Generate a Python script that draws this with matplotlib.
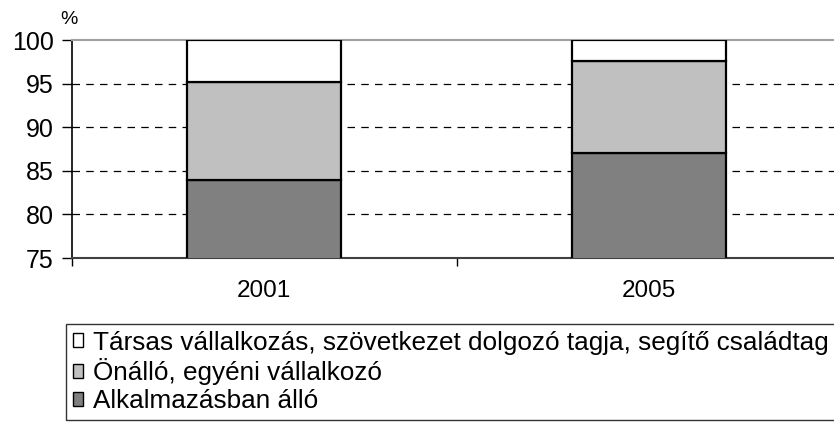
import matplotlib.pyplot as plt
from matplotlib.patches import Patch

plt.rcParams['font.family'] = ['Liberation Sans', 'DejaVu Sans']

years = ['2001', '2005']
alkalmazott = [83.9, 87.0]
onallo = [11.3, 10.6]
tarsas = [4.8, 2.4]

labels = ['Alkalmazásban álló',
          'Önálló, egyéni vállalkozó',
          'Társas vállalkozás, szövetkezet dolgozó tagja, segítő családtag']
colors = ['#808080', '#c0c0c0', '#ffffff']

fig = plt.figure(figsize=(8.34, 4.23), dpi=100)
ax = fig.add_axes([72 / 834, 165 / 423, 762 / 834, 218 / 423])

x = list(range(len(years)))
bottom = [0, 0]
for vals, col in zip([alkalmazott, onallo, tarsas], colors):
    ax.bar(x, vals, width=0.40, bottom=bottom, color=col,
           edgecolor='black', linewidth=1.6, zorder=3)
    bottom = [b + v for b, v in zip(bottom, vals)]

ax.set_ylim(75, 100)
ax.set_xlim(-0.498, 1.481)
ax.set_yticks([75, 80, 85, 90, 95, 100])
ax.tick_params(axis='y', labelsize=18, length=7, width=1, direction='out', pad=6)
ax.set_xticks(x)
ax.set_xticklabels(years, fontsize=17.5)
ax.tick_params(axis='x', which='major', length=0, pad=16)
ax.set_xticks([-0.5, 0.5], minor=True)
ax.tick_params(axis='x', which='minor', length=6, width=1, direction='out')

for yv in [80, 85, 90, 95]:
    ax.axhline(yv, color='black', linewidth=0.9, linestyle=(0, (6, 5)), zorder=1)

ax.spines['right'].set_visible(False)
ax.spines['top'].set_color('#a0a0a0')
ax.spines['top'].set_linewidth(1.5)
ax.spines['bottom'].set_color('#404040')
ax.spines['bottom'].set_linewidth(1.5)
ax.spines['left'].set_linewidth(1.2)

fig.text(69 / 834, 1 - 19 / 423, '%', fontsize=14, ha='center', va='center')

handles = [Patch(facecolor=c, edgecolor='black', linewidth=1) for c in colors]
leg = fig.legend(handles[::-1], labels[::-1], loc='upper left',
                 bbox_to_anchor=(66 / 834, 1 - 324 / 423), fontsize=18.8,
                 handlelength=0.42, handleheight=0.42, handletextpad=0.38,
                 labelspacing=0.15, borderpad=0.25, borderaxespad=0,
                 fancybox=False, frameon=True)
leg.get_frame().set_edgecolor('black')
leg.get_frame().set_linewidth(1)

fig.savefig('out.png', dpi=100)
